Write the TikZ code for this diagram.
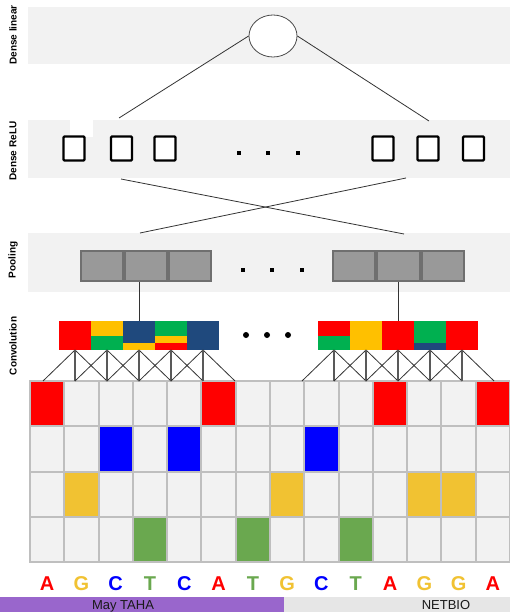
\documentclass[tikz,border=0pt]{standalone}
\usepackage{fontspec}
\setmainfont{Liberation Sans}
\usetikzlibrary{shapes.geometric}
\definecolor{band}{HTML}{F2F2F2}
\definecolor{gridgray}{HTML}{BFBFBF}
\definecolor{gred}{HTML}{FF0000}
\definecolor{gblue}{HTML}{0000FF}
\definecolor{gyel}{HTML}{F1C232}
\definecolor{ggrn}{HTML}{6AA84F}
\definecolor{cyel}{HTML}{FFC000}
\definecolor{cgrn}{HTML}{00B050}
\definecolor{cnavy}{HTML}{1F497D}
\definecolor{poolfill}{HTML}{999999}
\definecolor{pooldraw}{HTML}{6F6F6F}
\definecolor{purp}{HTML}{9966CC}
\definecolor{footgray}{HTML}{E6E6E6}
\begin{document}
\begin{tikzpicture}[x=1pt,y=-1pt,
  lbl/.style={rotate=90,font=\bfseries\fontsize{10}{12}\selectfont,inner sep=0},
  relu/.style={draw=black,line width=2.2pt,fill=white,minimum width=21pt,minimum height=24pt,inner sep=0,rounded corners=1pt},
  poolcell/.style={draw=pooldraw,fill=poolfill,line width=2pt,minimum width=42.3pt,minimum height=30pt,inner sep=0},
  convcell/.style={minimum width=32pt,minimum height=29pt,inner sep=0,outer sep=0},
  cell/.style={draw=gridgray,fill=band,line width=2pt,minimum width=34.2857pt,minimum height=45.25pt,inner sep=0,outer sep=0},
  conn/.style={draw=black!80,line width=0.8pt},
  vconn/.style={draw=black!65,line width=1.3pt},
  base/.style={font=\bfseries\fontsize{20}{24}\selectfont,anchor=base,inner sep=0},
  foot/.style={font=\fontsize{13}{15}\selectfont,text=black!90,anchor=base,inner sep=0}]
\useasboundingbox (0,0) rectangle (510,612);
\fill[white] (0,0) rectangle (510,612);
% bands
\fill[band] (28,7) rectangle (510,64);
\fill[band] (28,120) rectangle (510,178);
\fill[white] (70,120) rectangle (93,137);
\fill[band] (28,233) rectangle (510,292);
% labels
\node[lbl] (labA) at (13,35) {Dense linear};
\node[lbl] (labB) at (13,151) {Dense ReLU};
\node[lbl] (labC) at (13,260) {Pooling};
\node[lbl] (labD) at (13,346) {Convolution};
% output ellipse
\node[draw=black!70,line width=0.8pt,fill=white,ellipse,minimum width=48pt,minimum height=42pt,inner sep=0] (out) at (273,36) {};
% relu squares
\node[relu] (r1) at (74,148.5) {};
\node[relu] (r2) at (121.5,148.5) {};
\node[relu] (r3) at (165,148.5) {};
\node[relu] (r4) at (383,148.5) {};
\node[relu] (r5) at (428,148.5) {};
\node[relu] (r6) at (473.5,148.5) {};
\foreach \x in {239,268,298} \fill (\x-2,151) rectangle (\x+2,155);
% lines from output
\coordinate (ra) at (119,118);
\coordinate (rb) at (429,121);
\draw[conn] (out.west) -- (ra);
\draw[conn] (out.east) -- (rb);
% pooling
\node[poolcell] (p1) at (102,266) {};
\node[poolcell] (p2) at (146,266) {};
\node[poolcell] (p3) at (190,266) {};
\node[poolcell] (q1) at (354.3,266) {};
\node[poolcell] (q2) at (398.6,266) {};
\node[poolcell] (q3) at (442.9,266) {};
\foreach \x in {243,272,302} \fill (\x-2,268) rectangle (\x+2,272);
% crossing lines relu -> pool
\coordinate (ru1) at (121,179);
\coordinate (ru2) at (406,178);
\coordinate (pl1) at (140,233);
\coordinate (pl2) at (404,234);
\draw[conn] (ru1) -- (pl2);
\draw[conn] (ru2) -- (pl1);
% convolution cells
\foreach \i [evaluate=\i as \xx using 43+32*\i] in {1,...,5} {
  \node[convcell] (c\i) at (\xx,335.5) {};
  \node[convcell] (d\i) at ({302+32*\i},335.5) {};
}
\fill[gred] (c1.north west) rectangle (c1.south east);
\fill[cyel] (c2.north west) rectangle (c2.east);
\fill[cgrn] (c2.west) rectangle (c2.south east);
\fill[cnavy] (c3.north west) rectangle (c3.south east);
\fill[cyel] ([yshift=7pt]c3.south west) rectangle (c3.south east);
\fill[cgrn] (c4.north west) rectangle (c4.south east);
\fill[cyel] ([yshift=14pt]c4.south west) rectangle ([yshift=7pt]c4.south east);
\fill[gred] ([yshift=7pt]c4.south west) rectangle (c4.south east);
\fill[cnavy] (c5.north west) rectangle (c5.south east);
\fill[gred] (d1.north west) rectangle (d1.east);
\fill[cgrn] (d1.west) rectangle (d1.south east);
\fill[cyel] (d2.north west) rectangle (d2.south east);
\fill[gred] (d3.north west) rectangle (d3.south east);
\fill[cgrn] (d4.north west) rectangle (d4.south east);
\fill[cnavy] ([yshift=7pt]d4.south west) rectangle (d4.south east);
\fill[gred] (d5.north west) rectangle (d5.south east);
\foreach \x in {246,267,288} \fill (\x,335) circle (3);
% pool -> conv
\draw[conn] (c3.north) -- (c3.north |- p2.south);
\draw[conn] (d3.north) -- (d3.north |- q2.south);
% grid
\foreach \c in {0,...,13}
  \foreach \r in {0,...,3}
    \node[cell] (g\r-\c) at ({30+34.2857*(\c+0.5)},{381+45.25*(\r+0.5)}) {};
\foreach \r/\c/\col in {0/0/gred,0/5/gred,0/10/gred,0/13/gred,
    1/2/gblue,1/4/gblue,1/8/gblue,
    2/1/gyel,2/7/gyel,2/11/gyel,2/12/gyel,
    3/3/ggrn,3/6/ggrn,3/9/ggrn}
  \fill[\col] ([shift={(1pt,-1pt)}]g\r-\c.north west) rectangle ([shift={(-1pt,1pt)}]g\r-\c.south east);
% conv -> grid connectors
\foreach \k in {0,...,6} {
  \coordinate (lb\k) at ({43+32*\k},381);
  \coordinate (rb\k) at ({302+32*\k},381);
}
\foreach \i [evaluate=\i as \pm using int(\i-1), evaluate=\i as \pp using int(\i+1)] in {1,...,5} {
  \draw[conn] (c\i.south) -- (lb\pm);
  \draw[conn] (c\i.south) -- (lb\pp);
  \draw[vconn] (c\i.south) -- (lb\i);
  \draw[conn] (d\i.south) -- (rb\pm);
  \draw[conn] (d\i.south) -- (rb\pp);
  \draw[vconn] (d\i.south) -- (rb\i);
}
% bases
\foreach \c/\b/\col in {0/A/gred,1/G/gyel,2/C/gblue,3/T/ggrn,4/C/gblue,5/A/gred,6/T/ggrn,
    7/G/gyel,8/C/gblue,9/T/ggrn,10/A/gred,11/G/gyel,12/G/gyel,13/A/gred}
  \node[base,text=\col] (b\c) at ({30+34.2857*(\c+0.5)},590) {\b};
% footer
\fill[purp] (0,597) rectangle (284,612);
\fill[footgray] (284,597) rectangle (510,612);
\node[foot] (f1) at (123,609) {May TAHA};
\node[foot] (f2) at (446,609) {NETBIO};
\end{tikzpicture}
\end{document}
